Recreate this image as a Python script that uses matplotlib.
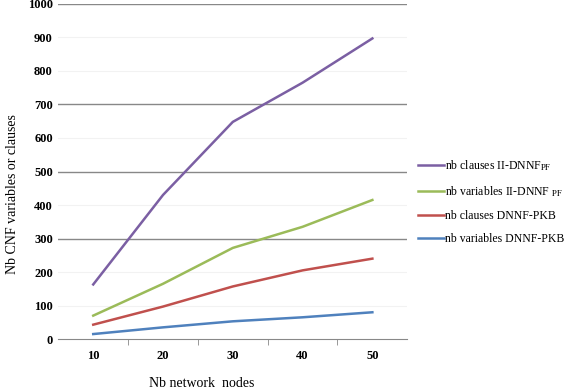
import matplotlib
matplotlib.use('Agg')
import matplotlib.pyplot as plt

nodes = ['10', '20', '30', '40', '50']
clauses_ii = [163, 430, 648, 765, 897]
vars_ii = [70, 165, 272, 335, 415]
clauses_pkb = [43, 97, 157, 205, 240]
vars_pkb = [15, 35, 53, 65, 80]

labels = ['nb clauses II-DNNF$_{\\mathrm{PF}}$',
          'nb variables II-DNNF $_{\\mathrm{PF}}$',
          'nb clauses DNNF-PKB',
          'nb variables DNNF-PKB']
colors = ['#7b5fa3', '#9bbb59', '#c0504d', '#4f81bd']

plt.rcParams['font.family'] = ['Liberation Serif', 'DejaVu Serif']
plt.rcParams['mathtext.fontset'] = 'stix'

fig = plt.figure(figsize=(5.72, 3.92), dpi=100)
ax = fig.add_axes([0.102, 0.135, 0.610, 0.855])

x = list(range(len(nodes)))
for ys, c, lab in zip([clauses_ii, vars_ii, clauses_pkb, vars_pkb], colors, labels):
    ax.plot(x, ys, color=c, lw=1.8, label=lab)

ax.set_xlim(-0.5, 4.5)
ax.set_ylim(0, 1000)
ax.set_yticks(range(0, 1001, 100))
# dark gridlines only on some levels, the others are very faint in the scan
for v in range(100, 1001, 100):
    if v in (300, 500, 700, 1000):
        ax.axhline(v, color='#888888', lw=1.0, zorder=0)
    else:
        ax.axhline(v, color='#f2f2f2', lw=0.8, zorder=0)

for s in ['top', 'right', 'left']:
    ax.spines[s].set_visible(False)
ax.spines['bottom'].set_color('#888888')
ax.set_xticks(x)
ax.set_xticklabels(nodes)
ax.set_xticks([i + 0.5 for i in range(4)], minor=True)
ax.tick_params(axis='x', which='major', length=0, pad=8, labelsize=9)
ax.tick_params(axis='x', which='minor', length=4, color='#888888')
ax.tick_params(axis='y', length=0, pad=4, labelsize=9)
for t in ax.get_xticklabels() + ax.get_yticklabels():
    t.set_fontweight('bold')

fig.text(0.022, 0.505, 'Nb CNF variables or clauses', fontsize=10,
         rotation=90, ha='center', va='center')
fig.text(0.352, 0.012, 'Nb network  nodes', fontsize=10, ha='center')

ax.legend(loc='center left', bbox_to_anchor=(1.0, 0.41), frameon=False,
          fontsize=8.5, handlelength=2.2, handletextpad=0.1, labelspacing=0.95)

fig.savefig('out.png', dpi=100)
